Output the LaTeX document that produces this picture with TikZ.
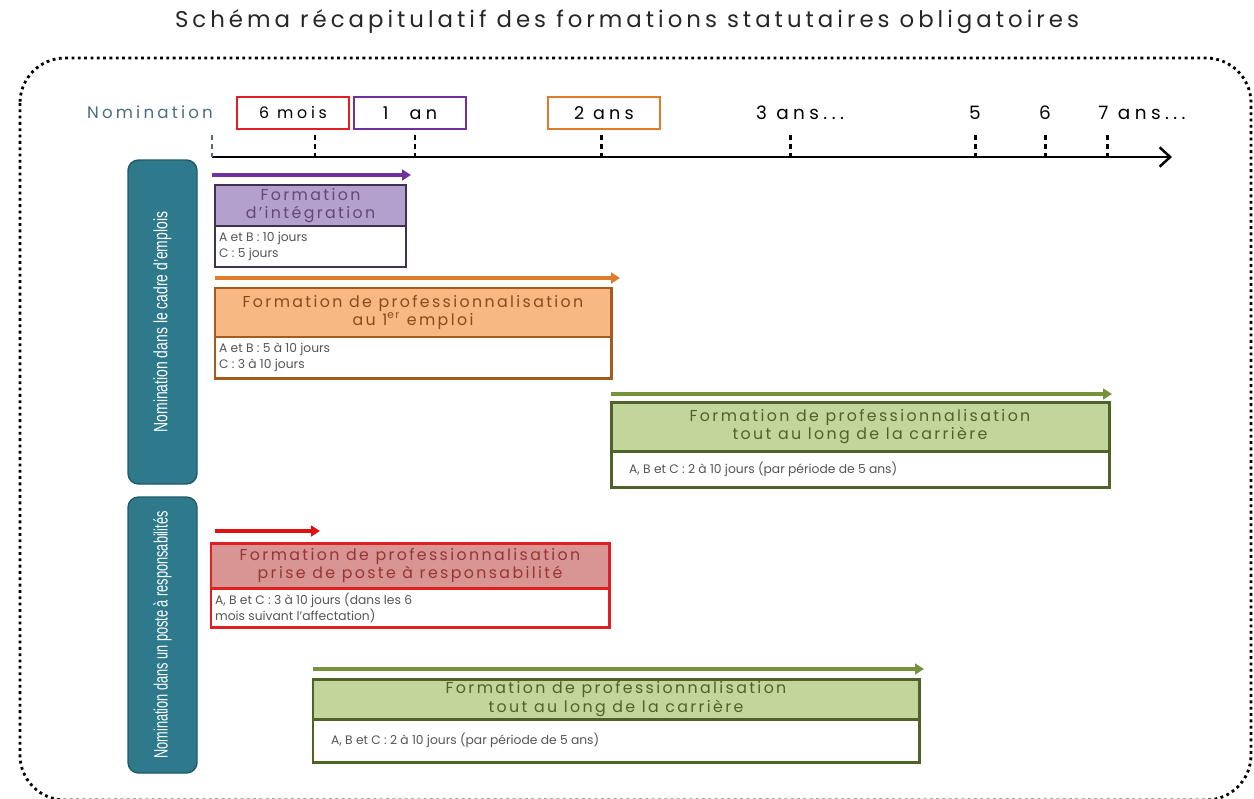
\documentclass[tikz,border=0pt]{standalone}
\usepackage{fontspec}
\setmainfont{Poppins}
\newfontfamily\spacedA[LetterSpace=17.5]{Poppins}
\newfontfamily\spacedB[LetterSpace=15]{Poppins}
\newfontfamily\spacedC[LetterSpace=19]{Poppins}
\newfontfamily\spacedD[LetterSpace=24]{Poppins}
\newfontfamily\narrowfont[FakeStretch=0.72]{Liberation Sans}
\newfontfamily\narrowfontb[FakeStretch=0.66]{Liberation Sans}
\usetikzlibrary{fit,arrows.meta}
\definecolor{tealbox}{HTML}{2E7A8C}
\definecolor{tealdark}{HTML}{1F5A68}
\definecolor{nomtxt}{HTML}{4A6F80}
\definecolor{purpA}{HTML}{7030A0}
\definecolor{purpF}{HTML}{B4A0CC}
\definecolor{purpB}{HTML}{3F3151}
\definecolor{purpT}{HTML}{5F497A}
\definecolor{oranA}{HTML}{E07B2A}
\definecolor{oranF}{HTML}{F8B883}
\definecolor{oranB}{HTML}{A65A1E}
\definecolor{oranT}{HTML}{8A4A1A}
\definecolor{greenA}{HTML}{76923C}
\definecolor{greenF}{HTML}{C2D69B}
\definecolor{greenB}{HTML}{4F6228}
\definecolor{greenT}{HTML}{4F6228}
\definecolor{redA}{HTML}{E01010}
\definecolor{redF}{HTML}{D99594}
\definecolor{redB}{HTML}{E02020}
\definecolor{redT}{HTML}{943634}
\definecolor{bodyT}{HTML}{555555}
\tikzset{
  hdr/.style={inner sep=0pt, line width=1.7pt},
  bodybox/.style={inner sep=0pt, line width=1.7pt, fill=white},
  htext/.style={align=center, font=\spacedB\fontsize{9}{10.5}\selectfont, inner sep=0pt},
  btext/.style={align=left, anchor=west, font=\fontsize{7}{9}\selectfont, text=bodyT, inner sep=0pt},
  tarrow/.style={line width=2.2pt, -{Triangle[length=5pt,width=6pt]}},
  ticklbl/.style={draw, line width=1.6pt, minimum width=2.24cm, minimum height=0.64cm, inner sep=0pt, font=\spacedD\fontsize{10}{11}\selectfont},
  toplbl/.style={font=\spacedD\fontsize{10.5}{12}\selectfont},
  tickmark/.style={line width=1.7pt, dash pattern=on 3pt off 2pt},
  sidebox/.style={draw=tealdark, fill=tealbox, rounded corners=6pt, line width=0.8pt, inner sep=0pt},
}
\begin{document}
\begin{tikzpicture}[x=0.02cm,y=-0.02cm]
\useasboundingbox (0,0) rectangle (1254,798);
% title
\node[font=\spacedA\fontsize{13}{15}\selectfont, text=black!85] (title) at (627,22) {Schéma récapitulatif des formations statutaires obligatoires};
% dotted frame
\draw[line width=1.6pt, dotted, rounded corners=0.9cm] (20,58) rectangle (1251,800);
% timeline
\coordinate (t0) at (212,157);
\coordinate (tend) at (1172,157);
\draw[line width=1.4pt, -{Straight Barb[length=6pt,width=11pt,line width=1.4pt]}] (t0) -- (tend);
\coordinate (k0) at (212,135);
\draw[tickmark, draw=nomtxt] (k0) -- (t0);
\foreach \n/\x in {k1/315,k2/415,k3/601,k4/790,k5/975,k6/1045,k7/1107}{
  \coordinate (\n) at (\x,135);
  \coordinate (\n b) at (\x,157);
  \draw[tickmark] (\n) -- (\n b);
}
% labels
\node[text=nomtxt, font=\spacedC\fontsize{9.5}{11}\selectfont] (nom) at (150,112) {Nomination};
\node[ticklbl, draw=redB, font=\spacedD\fontsize{9}{10}\selectfont] (m6) at (293,113) {6 mois};
\node[ticklbl, draw=purpA] (a1) at (410,113) {1\hspace{1.2em}an};
\node[ticklbl, draw=oranA] (a2) at (604,113) {2 ans};
\node[toplbl] (a3) at (800,113) {3 ans...};
\node[toplbl] (a5) at (975,113) {5};
\node[toplbl] (a6) at (1045,113) {6};
\node[toplbl] (a7) at (1142,113) {7 ans...};
% side boxes
\node[sidebox, fit={(128,160)(197,484)}] (side1) {};
\node[rotate=90, text=white, font=\narrowfont\fontsize{11}{12}\selectfont] (side1t) at (side1.center) {Nomination dans le cadre d’emplois};
\node[sidebox, fit={(128,497)(197,773)}] (side2) {};
\node[rotate=90, text=white, font=\narrowfontb\fontsize{11}{12}\selectfont] (side2t) at (side2.center) {Nomination dans un poste à responsabilités};
% Formation d'integration
\coordinate (pa0) at (212,175); \coordinate (pa1) at (411,175);
\draw[tarrow, purpA] (pa0) -- (pa1);
\node[hdr, draw=purpB, fill=purpF, fit={(215,185)(406,226)}] (intH) {};
\node[htext, text=purpT] (intHt) at (intH.center) {Formation\\d’intégration};
\node[bodybox, draw=purpB, fit={(215,226)(406,267)}] (intB) {};
\node[btext] (intBt) at ([xshift=3pt]intB.west) {A et B : 10 jours\\C : 5 jours};
% Formation 1er emploi
\coordinate (oa0) at (215,278); \coordinate (oa1) at (620,278);
\draw[tarrow, oranA] (oa0) -- (oa1);
\node[hdr, draw=oranB, fill=oranF, fit={(215,288)(611,337)}] (orH) {};
\node[htext, text=oranT] (orHt) at (orH.center) {Formation de professionnalisation\\au 1\textsuperscript{er} emploi};
\node[bodybox, draw=oranB, fit={(215,337)(611,378)}] (orB) {};
\node[btext] (orBt) at ([xshift=3pt]orB.west) {A et B : 5 à 10 jours\\C : 3 à 10 jours};
% Formation carriere 1
\coordinate (ga0) at (611,394); \coordinate (ga1) at (1112,394);
\draw[tarrow, greenA] (ga0) -- (ga1);
\node[hdr, draw=greenB, fill=greenF, fit={(611,402)(1109,451)}] (g1H) {};
\node[htext, text=greenT] (g1Ht) at (g1H.center) {Formation de professionnalisation\\tout au long de la carrière};
\node[bodybox, draw=greenB, fit={(611,451)(1109,487)}] (g1B) {};
\node[btext] (g1Bt) at ([xshift=11pt]g1B.west) {A, B et C : 2 à 10 jours (par période de 5 ans)};
% Formation prise de poste
\coordinate (ra0) at (215,531); \coordinate (ra1) at (320,531);
\draw[tarrow, redA] (ra0) -- (ra1);
\node[hdr, draw=redB, fill=redF, fit={(211,543)(609,588)}] (rH) {};
\node[htext, text=redT] (rHt) at (rH.center) {Formation de professionnalisation\\prise de poste à responsabilité};
\node[bodybox, draw=redB, fit={(211,588)(609,627)}] (rB) {};
\node[btext] (rBt) at ([xshift=3pt]rB.west) {A, B et C : 3 à 10 jours (dans les 6\\mois suivant l’affectation)};
% Formation carriere 2
\coordinate (gb0) at (313,669); \coordinate (gb1) at (924,669);
\draw[tarrow, greenA] (gb0) -- (gb1);
\node[hdr, draw=greenB, fill=greenF, fit={(313,679)(919,719)}] (g2H) {};
\node[htext, text=greenT] (g2Ht) at (g2H.center) {Formation de professionnalisation\\tout au long de la carrière};
\node[bodybox, draw=greenB, fit={(313,719)(919,762)}] (g2B) {};
\node[btext] (g2Bt) at ([xshift=11pt]g2B.west) {A, B et C : 2 à 10 jours (par période de 5 ans)};
\end{tikzpicture}
\end{document}
